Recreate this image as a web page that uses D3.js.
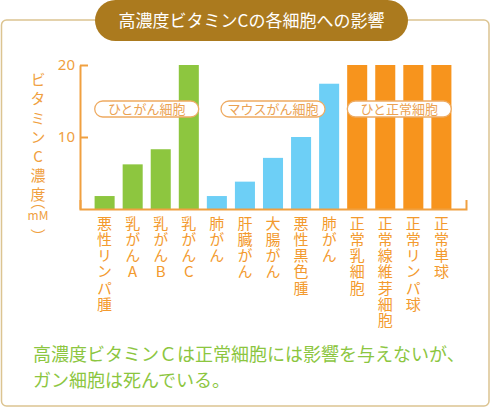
<!DOCTYPE html>
<html><head><meta charset="utf-8">
<script src="https://cdn.jsdelivr.net/npm/d3@7"></script>
<style>
html,body{margin:0;padding:0;background:#fff;}
svg{display:block;font-family:"Noto Sans CJK JP","Noto Sans",sans-serif;}
.vt{writing-mode:vertical-rl;text-orientation:upright;}
</style></head>
<body><svg id="c" width="490" height="408"></svg>
<script>
const title = "高濃度ビタミンCの各細胞への影響";
const categories = ["悪性リンパ腫","乳がんA","乳がんB","乳がんC","肺がん","肝臓がん","大腸がん","悪性黒色腫","肺がん","正常乳細胞","正常線維芽細胞","正常リンパ球","正常単球"];
const values = [1.8, 6.2, 8.3, 20, 1.8, 3.8, 7.1, 10, 17.4, 20, 20, 20, 20];
const groupOf = [0,0,0,0,1,1,1,1,1,2,2,2,2];
const groups = ["ひとがん細胞","マウスがん細胞","ひと正常細胞"];
const groupColors = ["#8dc63f","#6dcff6","#f7941d"];
const yTicks = [10, 20];
const yLabelMain = "ビタミンC濃度";
const yLabelOpen = "︵";
const yLabelUnit = "mM";
const yLabelClose = "︶";
const noteLines = ["高濃度ビタミンＣは正常細胞には影響を与えないが、","ガン細胞は死んでいる。"];

const svg = d3.select("#c");
const orange = "#f0a040";

// frame
svg.append("rect").attr("x",1.5).attr("y",20).attr("width",487.5).attr("height",386)
  .attr("rx",5).attr("fill","#fff").attr("stroke","#dcc491").attr("stroke-width",1.5);
// title pill
svg.append("rect").attr("x",95).attr("y",0).attr("width",313).attr("height",41).attr("rx",20.5).attr("fill","#ab7a1e");
svg.append("text").attr("x",251.5).attr("y",26.5).attr("text-anchor","middle")
  .attr("fill","#fff").attr("font-size",17).text(title);

const x = d3.scaleBand().domain(d3.range(categories.length)).range([80,466]).paddingInner(0.286).paddingOuter(0.52);
const y = d3.scaleLinear().domain([0,20]).range([209,65]);

// bars
svg.append("g").selectAll("rect").data(values).join("rect")
  .attr("x",(d,i)=>x(i)).attr("width",x.bandwidth())
  .attr("y",d=>y(d)).attr("height",d=>y(0)-y(d))
  .attr("fill",(d,i)=>groupColors[groupOf[i]]);

// y axis
const ya = svg.append("g").attr("transform","translate(80,0)")
  .call(d3.axisLeft(y).tickValues(yTicks).tickSizeInner(-8).tickSizeOuter(0).tickPadding(5));
ya.selectAll("path,line").attr("stroke",orange).attr("stroke-width",2);
ya.selectAll("text").attr("fill",orange).attr("font-size",15).attr("font-family","Noto Sans, sans-serif");

// x axis baseline
const xa = svg.append("g").attr("transform",`translate(0,${y(0)})`)
  .call(d3.axisBottom(x).tickSize(0).tickSizeOuter(-9).tickFormat(""));
xa.select("path").attr("stroke",orange).attr("stroke-width",2).attr("fill","none");

// x labels (vertical)
svg.append("g").selectAll("text").data(categories).join("text")
  .attr("class","vt")
  .attr("x",(d,i)=>x(i)+x.bandwidth()/2).attr("y",216)
  .attr("font-size",15).attr("letter-spacing",1.1).attr("fill","#f39a2e").text(d=>d);

// group pills
groups.forEach((g,k)=>{
  const idx = d3.range(categories.length).filter(i=>groupOf[i]===k);
  const x0 = x(idx[0]), x1 = x(idx[idx.length-1])+x.bandwidth();
  const cx = (x0+x1)/2;
  svg.append("rect").attr("x",cx-52).attr("y",101).attr("width",104).attr("height",16).attr("rx",8)
    .attr("fill","#fff").attr("stroke","#eeab62").attr("stroke-width",1.3);
  svg.append("text").attr("x",cx).attr("y",109).attr("dy","0.36em").attr("text-anchor","middle")
    .attr("font-size",13).attr("fill","#eba252").text(g);
});

// y label vertical
svg.append("text").attr("class","vt").attr("x",38).attr("y",72)
  .attr("font-size",15).attr("letter-spacing",4.2).attr("fill",orange).text(yLabelMain);
svg.append("text").attr("x",38).attr("y",202).attr("dy","0.36em").attr("text-anchor","middle")
  .attr("font-size",15).attr("fill",orange).text(yLabelOpen);
svg.append("text").attr("x",38).attr("y",216).attr("dy","0.36em").attr("text-anchor","middle")
  .attr("font-size",12).attr("fill",orange).text(yLabelUnit);
svg.append("text").attr("x",38).attr("y",237).attr("dy","0.36em").attr("text-anchor","middle")
  .attr("font-size",15).attr("fill",orange).text(yLabelClose);

// note
noteLines.forEach((t,j)=>{
  svg.append("text").attr("x",33).attr("y",361+j*26).attr("font-size",18).attr("fill","#8cc63f").text(t);
});
</script></body></html>
